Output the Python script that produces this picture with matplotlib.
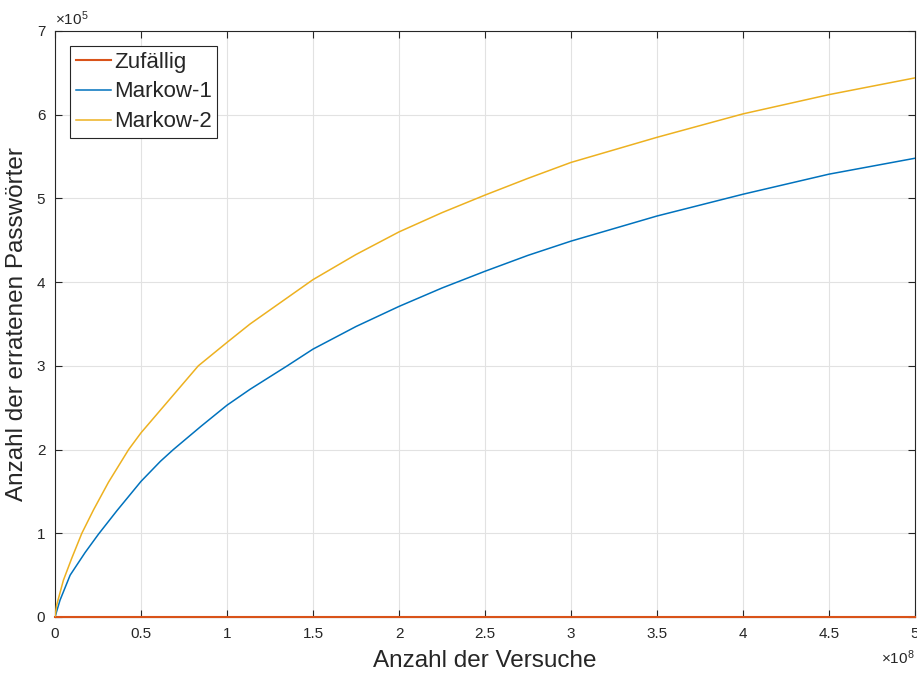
import matplotlib
matplotlib.use("Agg")
import matplotlib.pyplot as plt
import matplotlib.ticker as ticker

# ── Daten ────────────────────────────────────────────────────────────────────
# Versuche in Einheiten von 1e8, erratene Passwörter in Einheiten von 1e5
X_SCALE = 1e8
Y_SCALE = 1e5

zufaellig_x = [0.0, 5.0]
zufaellig_y = [0.0, 0.0]

markow1_x = [0.0, 0.029, 0.088, 0.175, 0.253, 0.36, 0.5, 0.613, 0.688, 0.85,
             1.0, 1.134, 1.35, 1.5, 1.75, 2.0, 2.25, 2.5, 2.75, 3.0, 3.5, 4.0, 4.5, 5.0]
markow1_y = [0.0, 0.20, 0.50, 0.77, 0.99, 1.27, 1.62, 1.86, 2.0, 2.28,
             2.53, 2.72, 3.0, 3.20, 3.47, 3.71, 3.93, 4.13, 4.32, 4.49, 4.79, 5.05, 5.29, 5.48]

markow2_x = [0.0, 0.0097, 0.049, 0.097, 0.156, 0.224, 0.311, 0.428, 0.5, 0.833,
             1.0, 1.134, 1.5, 1.75, 2.0, 2.25, 2.5, 2.75, 3.0, 3.5, 4.0, 4.5, 5.0]
markow2_y = [0.0, 0.143, 0.44, 0.70, 1.0, 1.28, 1.61, 2.0, 2.20, 3.0,
             3.28, 3.50, 4.03, 4.33, 4.60, 4.83, 5.04, 5.24, 5.43, 5.73, 6.01, 6.24, 6.44]

x_ticks = [0, 0.5, 1, 1.5, 2, 2.5, 3, 3.5, 4, 4.5, 5]
y_ticks = [0, 1, 2, 3, 4, 5, 6, 7]

# MATLAB-Standardfarben
C_ORANGE = "#D95319"
C_BLUE = "#0072BD"
C_YELLOW = "#EDB120"
C_AXIS = "#262626"

plt.rcParams["font.family"] = ["Liberation Sans", "DejaVu Sans"]
plt.rcParams["mathtext.fontset"] = "custom"
plt.rcParams["mathtext.rm"] = "Liberation Sans"

fig = plt.figure(figsize=(9.17, 6.73), dpi=100)
fig.patch.set_facecolor("white")
ax = fig.add_axes([55 / 917, 56 / 673, 860 / 917, 586 / 673])


def scaled(vals, s):
    return [v * s for v in vals]


ax.plot(scaled(zufaellig_x, X_SCALE), scaled(zufaellig_y, Y_SCALE),
        color=C_ORANGE, lw=1.5, label="Zufällig", zorder=3, clip_on=False)
ax.plot(scaled(markow1_x, X_SCALE), scaled(markow1_y, Y_SCALE),
        color=C_BLUE, lw=1.1, label="Markow-1", zorder=3)
ax.plot(scaled(markow2_x, X_SCALE), scaled(markow2_y, Y_SCALE),
        color=C_YELLOW, lw=1.1, label="Markow-2", zorder=3)

ax.set_xlim(0, 5 * X_SCALE)
ax.set_ylim(0, 7 * Y_SCALE)
ax.set_xticks(scaled(x_ticks, X_SCALE))
ax.set_yticks(scaled(y_ticks, Y_SCALE))
ax.xaxis.set_major_formatter(ticker.FuncFormatter(lambda v, p: f"{v / X_SCALE:g}"))
ax.yaxis.set_major_formatter(ticker.FuncFormatter(lambda v, p: f"{v / Y_SCALE:g}"))

ax.tick_params(direction="in", length=5, width=0.8, color=C_AXIS,
               labelcolor=C_AXIS, labelsize=11,
               top=True, right=True, pad=7)
for s in ax.spines.values():
    s.set_color(C_AXIS)
    s.set_linewidth(0.8)
ax.grid(True, color="#E2E2E2", linewidth=0.8, zorder=0)
ax.set_axisbelow(True)

ax.set_xlabel("Anzahl der Versuche", fontsize=17.5, color=C_AXIS, labelpad=7)
ax.set_ylabel("Anzahl der erratenen Passwörter", fontsize=17.5, color=C_AXIS, labelpad=6)

# Exponenten wie bei MATLAB
ax.text(1.0, -0.054, r"$\times\mathdefault{10^{8}}$", transform=ax.transAxes,
        ha="right", va="top", fontsize=11, color=C_AXIS)
ax.text(0.0, 1.005, r"$\times\mathdefault{10^{5}}$", transform=ax.transAxes,
        ha="left", va="bottom", fontsize=11, color=C_AXIS)

leg = ax.legend(loc="upper left", bbox_to_anchor=(15 / 860, 1 - 15 / 586),
                borderaxespad=0, fontsize=16, frameon=True, fancybox=False,
                edgecolor=C_AXIS, framealpha=1, handlelength=1.6,
                handletextpad=0.12, labelspacing=0.4, borderpad=0.25)
leg.get_frame().set_linewidth(0.8)
for t in leg.get_texts():
    t.set_color(C_AXIS)

fig.savefig("out.png", dpi=100, facecolor="white")
